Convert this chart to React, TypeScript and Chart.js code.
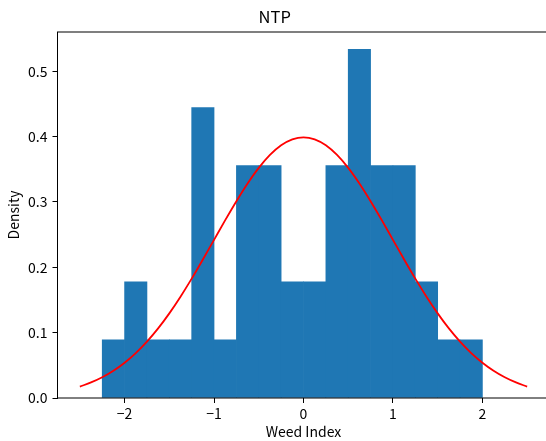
import React, { useEffect, useRef } from 'react';
import { Chart, registerables } from 'chart.js';

Chart.register(...registerables);

// Histogram bin edges (Weed Index) and density per bin
const binEdges = [-2.25, -2.0, -1.75, -1.5, -1.25, -1.0, -0.75, -0.5, -0.25, 0.0, 0.25, 0.5, 0.75, 1.0, 1.25, 1.5, 1.75, 2.0];
const densities = [0.0889, 0.1778, 0.0889, 0.0889, 0.4444, 0.0889, 0.3556, 0.3556, 0.1778, 0.1778, 0.3556, 0.5333, 0.3556, 0.3556, 0.1778, 0.0889, 0.0889];

// Red fitted curve
const curveX = [-2.5, -2.375, -2.25, -2.125, -2.0, -1.875, -1.75, -1.625, -1.5, -1.375, -1.25, -1.125, -1.0, -0.875, -0.75, -0.625, -0.5, -0.375, -0.25, -0.125, 0.0, 0.125, 0.25, 0.375, 0.5, 0.625, 0.75, 0.875, 1.0, 1.125, 1.25, 1.375, 1.5, 1.625, 1.75, 1.875, 2.0, 2.125, 2.25, 2.375, 2.5];
const curveY = [0.0175, 0.0238, 0.0317, 0.0417, 0.0540, 0.0688, 0.0863, 0.1065, 0.1295, 0.1550, 0.1826, 0.2119, 0.2420, 0.2721, 0.3011, 0.3282, 0.3521, 0.3719, 0.3867, 0.3958, 0.3989, 0.3958, 0.3867, 0.3719, 0.3521, 0.3282, 0.3011, 0.2721, 0.2420, 0.2119, 0.1826, 0.1550, 0.1295, 0.1065, 0.0863, 0.0688, 0.0540, 0.0417, 0.0317, 0.0238, 0.0175];

const xTicks = [-2, -1, 0, 1, 2];
const yTicks = [0.0, 0.1, 0.2, 0.3, 0.4, 0.5];

const FONT = '"Noto Sans CJK JP", "Noto Sans", sans-serif';

const spinePlugin = {
  id: 'spines',
  afterDraw(chart: any) {
    const { ctx, chartArea } = chart;
    ctx.save();
    ctx.strokeStyle = '#000';
    ctx.lineWidth = 1;
    ctx.strokeRect(chartArea.left, chartArea.top, chartArea.right - chartArea.left, chartArea.bottom - chartArea.top);
    ctx.restore();
  },
};

export default function App() {
  const ref = useRef<HTMLCanvasElement | null>(null);

  useEffect(() => {
    document.body.style.margin = '0';
    const canvas = ref.current;
    if (!canvas) return;
    const centers = densities.map((_, i) => (binEdges[i] + binEdges[i + 1]) / 2);
    const chart = new Chart(canvas, {
      type: 'bar',
      data: {
        datasets: [
          {
            type: 'line',
            data: curveX.map((x, i) => ({ x, y: curveY[i] })),
            borderColor: '#ff0000',
            borderWidth: 1.8,
            pointRadius: 0,
            fill: false,
            cubicInterpolationMode: 'monotone',
            order: 0,
          } as any,
          {
            type: 'bar',
            data: centers.map((x, i) => ({ x, y: densities[i] })),
            backgroundColor: '#1f77b4',
            borderWidth: 0,
            barPercentage: 1,
            categoryPercentage: 1,
            order: 1,
          } as any,
        ],
      },
      options: {
        animation: false,
        responsive: false,
        devicePixelRatio: 1,
        layout: { padding: { left: 0, right: 2.5, top: 0, bottom: 0 } },
        plugins: {
          legend: { display: false },
          tooltip: { enabled: false },
          title: {
            display: true,
            text: 'NTP',
            color: '#000',
            font: { family: FONT, size: 16.5, weight: 'normal', lineHeight: 1.2 },
            padding: { top: 7, bottom: 5.2 },
          },
        },
        scales: {
          x: {
            type: 'linear',
            min: -2.75,
            max: 2.75,
            offset: false,
            afterFit: (s: any) => { s.height = 43; },
            afterBuildTicks: (s: any) => { s.ticks = xTicks.map((v) => ({ value: v })); },
            ticks: {
              color: '#000',
              font: { family: FONT, size: 14 },
              padding: 2,
              maxRotation: 0,
              callback: (v: any) => (Number(v) < 0 ? '\u2212' + Math.abs(Number(v)) : String(v)),
            },
            grid: { display: true, drawOnChartArea: false, drawTicks: true, tickLength: 5, color: '#000', lineWidth: 1, offset: false },
            border: { display: false },
            title: {
              display: true,
              text: 'Weed Index',
              color: '#000',
              font: { family: FONT, size: 14 },
              padding: { top: 0, bottom: 1 },
            },
          },
          y: {
            type: 'linear',
            min: 0,
            max: 0.56,
            afterFit: (s: any) => { s.width = 57.5; },
            afterBuildTicks: (s: any) => { s.ticks = yTicks.map((v) => ({ value: v })); },
            ticks: {
              color: '#000',
              font: { family: FONT, size: 14 },
              padding: 5,
              callback: (v: any) => Number(v).toFixed(1),
            },
            grid: { display: true, drawOnChartArea: false, drawTicks: true, tickLength: 5, color: '#000', lineWidth: 1 },
            border: { display: false },
            title: {
              display: true,
              text: 'Density',
              color: '#000',
              font: { family: FONT, size: 14 },
              padding: { top: 5, bottom: 0 },
            },
          },
        },
      },
      plugins: [spinePlugin],
    });
    return () => chart.destroy();
  }, []);

  return (
    <div style={{ width: 546, height: 441, overflow: 'hidden', background: '#fff' }}>
      <canvas ref={ref} width={552} height={441} style={{ width: 552, height: 441, display: 'block' }} />
    </div>
  );
}
